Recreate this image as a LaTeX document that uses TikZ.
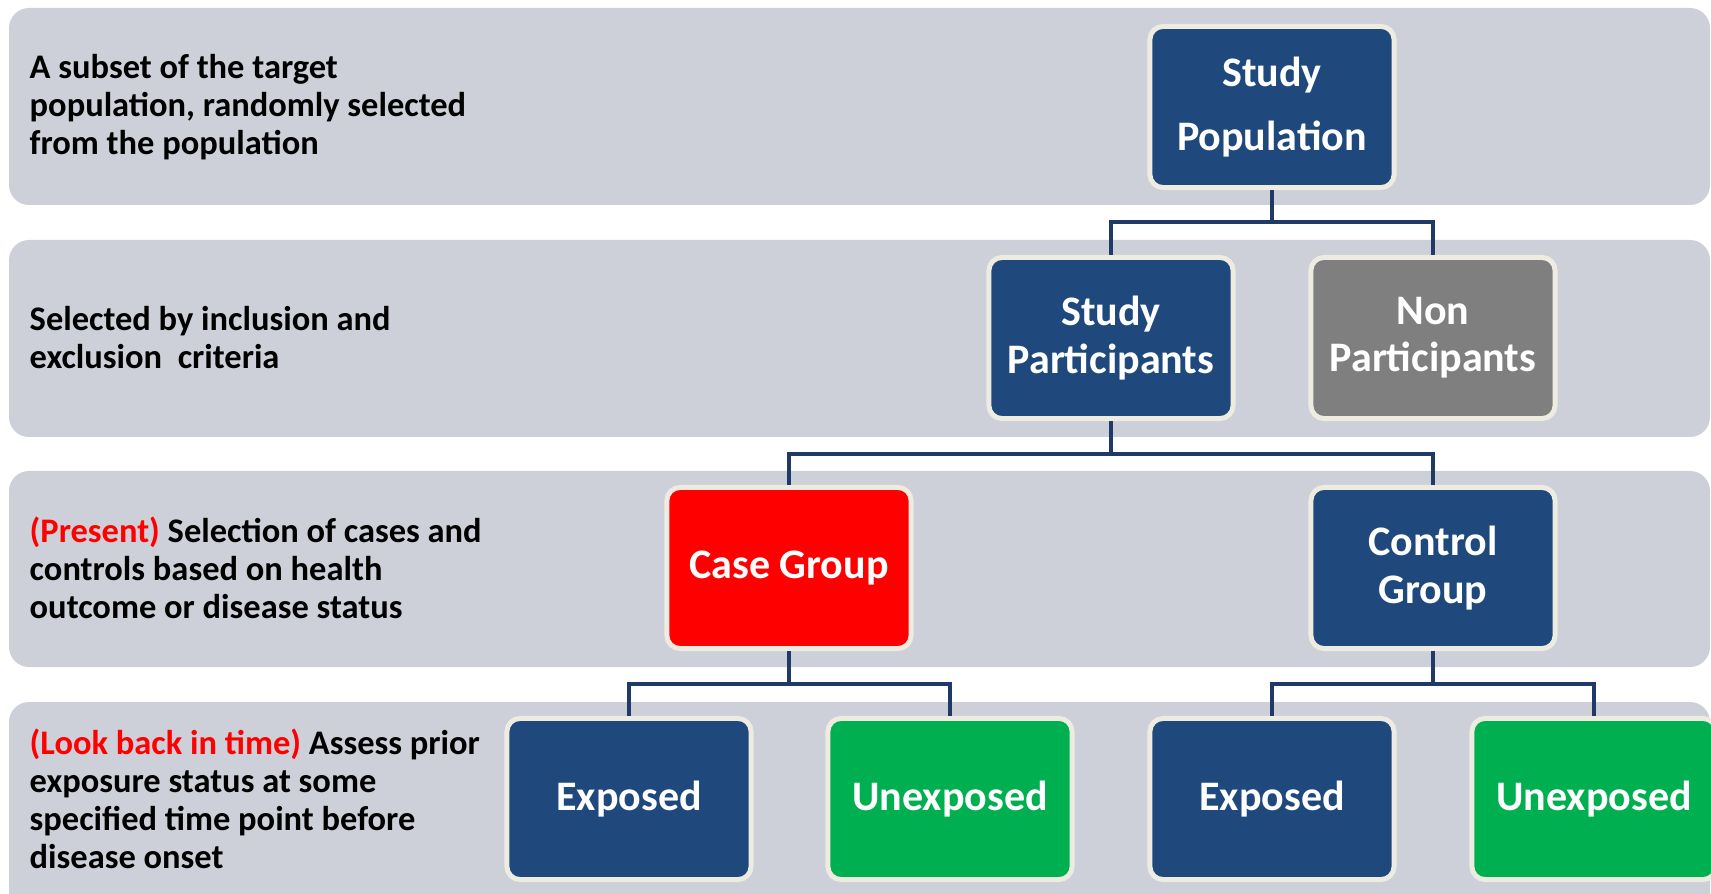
\documentclass[tikz,border=0pt]{standalone}
\usepackage{fontspec}
\setmainfont{Carlito}
\definecolor{bandgray}{HTML}{CDD0D9}
\definecolor{navyfill}{HTML}{1F497D}
\definecolor{boxrim}{HTML}{EEECE1}
\definecolor{greyfill}{HTML}{7F7F7F}
\definecolor{greenfill}{HTML}{00B050}
\definecolor{linkblue}{HTML}{1F3A66}
\begin{document}
\begin{tikzpicture}[x=0.01cm,y=-0.01cm,
    band/.style={fill=bandgray, rounded corners=0.2cm},
    box/.style={draw=boxrim, line width=1.4pt, rounded corners=0.13cm,
      minimum width=2.44cm, minimum height=1.61cm, text=white, align=center,
      font=\bfseries\fontsize{11.95}{13.4}\selectfont},
    note/.style={anchor=west, inner sep=0pt, align=left,
      font=\bfseries\fontsize{9.8}{10.8}\selectfont},
    link/.style={draw=linkblue, line width=1.1pt}]
    \clip (0,0) rectangle (1711,894);

    % background bands
    \fill[band] (9,8) rectangle (1710,205);
    \fill[band] (9,240) rectangle (1710,437);
    \fill[band] (9,471) rectangle (1710,667);
    \fill[band] (9,702) rectangle (1710,920);

    % left notes
    \node[note] (note1) at (29,107) {A subset of the target\\population, randomly selected\\from the population};
    \node[note] (note2) at (29,338) {Selected by inclusion and\\exclusion\ \ criteria};
    \node[note] (note3) at (29,568) {\textcolor{red}{(Present)} Selection of cases and\\controls based on health\\outcome or disease status};
    \node[note] (note4) at (29,799) {\textcolor{red}{(Look back in time)} Assess prior\\exposure status at some\\specified time point before\\disease onset};

    % boxes
    \node[box, fill=navyfill] (pop) at (1272,107) {Study\\[4.8pt]Population};
    \node[box, fill=navyfill] (part) at (1111,338) {Study\\Participants};
    \node[box, fill=greyfill] (nonpart) at (1433,338) {Non\\Participants};
    \node[box, fill=red] (case) at (789,568) {Case Group};
    \node[box, fill=navyfill] (control) at (1433,568) {Control\\Group};
    \node[box, fill=navyfill] (caseexp) at (629,799) {Exposed};
    \node[box, fill=greenfill] (caseunexp) at (950,799) {Unexposed};
    \node[box, fill=navyfill] (ctrlexp) at (1272,799) {Exposed};
    \node[box, fill=greenfill] (ctrlunexp) at (1594,799) {Unexposed};

    % connectors
    \draw[link] (pop.south) -- ++(0,32) -| (part.north);
    \draw[link] (pop.south) -- ++(0,32) -| (nonpart.north);
    \draw[link] (part.south) -- ++(0,33) -| (case.north);
    \draw[link] (part.south) -- ++(0,33) -| (control.north);
    \draw[link] (case.south) -- ++(0,33) -| (caseexp.north);
    \draw[link] (case.south) -- ++(0,33) -| (caseunexp.north);
    \draw[link] (control.south) -- ++(0,33) -| (ctrlexp.north);
    \draw[link] (control.south) -- ++(0,33) -| (ctrlunexp.north);
\end{tikzpicture}
\end{document}
